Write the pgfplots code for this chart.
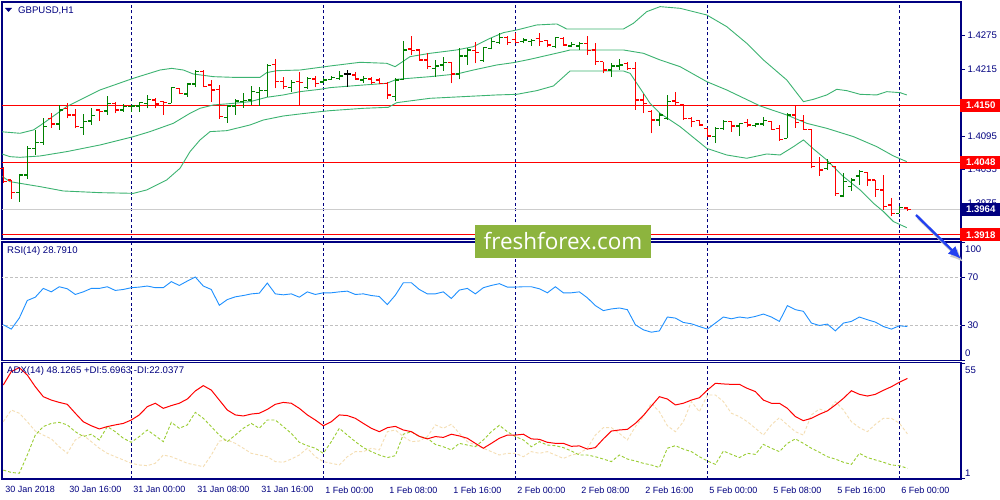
\documentclass[border=0pt]{standalone}
\usepackage{fontspec}
\setmainfont{Liberation Sans}
\newfontfamily\wmfont{Open Sans}
\usepackage{pgfplots}
\pgfplotsset{compat=1.18}
\usepackage{pgfplotstable}
\usetikzlibrary{arrows.meta}

\definecolor{mtnavy}{RGB}{0,0,128}
\definecolor{mtgreen}{RGB}{0,128,0}
\definecolor{bbgreen}{RGB}{60,179,113}
\definecolor{rsiblue}{RGB}{30,144,255}
\definecolor{pdi}{RGB}{154,205,50}
\definecolor{mdi}{RGB}{245,222,179}
\definecolor{wmgreen}{RGB}{141,180,62}
\definecolor{arrowblue}{RGB}{35,65,240}
\definecolor{lvl}{RGB}{192,192,192}

% open tick to the left, close tick to the right
\pgfdeclareplotmark{otick}{\pgfpathmoveto{\pgfqpoint{-3.5pt}{0pt}}\pgfpathlineto{\pgfqpoint{0pt}{0pt}}\pgfusepathqstroke}
\pgfdeclareplotmark{ctick}{\pgfpathmoveto{\pgfqpoint{0pt}{0pt}}\pgfpathlineto{\pgfqpoint{3.5pt}{0pt}}\pgfusepathqstroke}

% GBPUSD H1 bars, i = hours since 30 Jan 08:00 (weekend skipped)
\pgfplotstableread{
i o h l c
2 1.39937 1.40253 1.39776 1.40253
3 1.40253 1.40778 1.40182 1.40730
4 1.40730 1.41058 1.40611 1.40838
5 1.40838 1.41267 1.40790 1.41118
7 1.41166 1.41506 1.41058 1.41416
10 1.41100 1.41345 1.40969 1.41208
11 1.41219 1.41446 1.41148 1.41315
13 1.41398 1.41667 1.41327 1.41535
15 1.41416 1.41517 1.41386 1.41476
16 1.41476 1.41506 1.41386 1.41488
17 1.41488 1.41565 1.41386 1.41553
18 1.41535 1.41685 1.41446 1.41607
21 1.41535 1.41834 1.41535 1.41816
23 1.41702 1.41893 1.41655 1.41881
24 1.41881 1.42131 1.41822 1.42102
28 1.41285 1.41506 1.41190 1.41488
29 1.41488 1.41607 1.41327 1.41577
30 1.41565 1.41726 1.41458 1.41583
31 1.41595 1.41846 1.41506 1.41744
32 1.41726 1.41822 1.41488 1.41762
33 1.41762 1.42233 1.41655 1.42209
36 1.41822 1.41953 1.41744 1.41905
38 1.41822 1.42012 1.41786 1.41983
40 1.41917 1.41983 1.41905 1.41953
41 1.41965 1.42024 1.41953 1.41995
42 1.41983 1.42119 1.41953 1.42024
45 1.41953 1.42024 1.41905 1.41983
49 1.41655 1.41983 1.41583 1.41953
50 1.41965 1.42651 1.41953 1.42490
54 1.42161 1.42311 1.42012 1.42203
55 1.42221 1.42370 1.42119 1.42263
57 1.42060 1.42520 1.41965 1.42382
58 1.42382 1.42520 1.42221 1.42490
60 1.42299 1.42550 1.42281 1.42532
61 1.42520 1.42699 1.42502 1.42639
62 1.42621 1.42788 1.42597 1.42710
65 1.42639 1.42699 1.42609 1.42669
66 1.42639 1.42681 1.42561 1.42657
69 1.42550 1.42716 1.42520 1.42710
71 1.42561 1.42639 1.42538 1.42591
72 1.42561 1.42639 1.42490 1.42609
76 1.42131 1.42251 1.42012 1.42203
77 1.42203 1.42323 1.42131 1.42221
82 1.41237 1.41357 1.41130 1.41327
83 1.41267 1.41684 1.41237 1.41565
89 1.40940 1.41118 1.40821 1.41088
90 1.41088 1.41237 1.41058 1.41208
92 1.41130 1.41190 1.40951 1.41178
94 1.41136 1.41190 1.41106 1.41166
95 1.41166 1.41285 1.41130 1.41225
98 1.40910 1.41357 1.40910 1.41327
103 1.40372 1.40533 1.40342 1.40462
105 1.39878 1.40283 1.39854 1.40134
106 1.40044 1.40193 1.39973 1.40164
107 1.40235 1.40342 1.40074 1.40313
112 1.39567 1.39699 1.39567 1.39675
}\upbars

\pgfplotstableread{
i o h l c
0 1.40372 1.40402 1.40116 1.40134
1 1.40164 1.40164 1.39824 1.39943
6 1.41267 1.41357 1.41100 1.41166
8 1.41446 1.41535 1.41267 1.41327
9 1.41327 1.41428 1.41088 1.41118
12 1.41416 1.41428 1.41225 1.41386
14 1.41535 1.41565 1.41357 1.41416
19 1.41595 1.41625 1.41446 1.41523
20 1.41565 1.41577 1.41327 1.41547
22 1.41804 1.41804 1.41696 1.41714
25 1.42102 1.42131 1.41822 1.41834
26 1.41863 1.41953 1.41565 1.41774
27 1.41786 1.41863 1.41255 1.41297
34 1.42233 1.42323 1.41804 1.41923
35 1.41923 1.42012 1.41786 1.41834
37 1.41923 1.42102 1.41506 1.41911
39 1.41971 1.42024 1.41822 1.41893
44 1.42042 1.42101 1.41953 1.41971
46 1.41971 1.42000 1.41881 1.41905
47 1.41953 1.41983 1.41881 1.41893
48 1.41893 1.41923 1.41613 1.41684
51 1.42508 1.42746 1.42400 1.42478
52 1.42490 1.42502 1.42299 1.42311
53 1.42311 1.42442 1.42143 1.42191
56 1.42263 1.42281 1.41893 1.42060
59 1.42478 1.42627 1.42251 1.42442
63 1.42716 1.42740 1.42579 1.42621
64 1.42681 1.42788 1.42609 1.42621
67 1.42699 1.42788 1.42561 1.42639
68 1.42657 1.42669 1.42538 1.42579
70 1.42699 1.42716 1.42579 1.42579
73 1.42609 1.42740 1.42400 1.42478
74 1.42490 1.42609 1.42221 1.42281
75 1.42281 1.42281 1.42072 1.42131
78 1.42251 1.42281 1.42131 1.42161
79 1.42161 1.42281 1.41416 1.41595
80 1.41595 1.41702 1.41357 1.41535
81 1.41386 1.41416 1.40999 1.41237
84 1.41577 1.41744 1.41488 1.41547
85 1.41506 1.41523 1.41237 1.41267
86 1.41267 1.41297 1.41106 1.41208
87 1.41225 1.41237 1.41130 1.41148
88 1.41088 1.41088 1.40928 1.40951
91 1.41208 1.41225 1.41029 1.41130
93 1.41190 1.41249 1.41106 1.41148
96 1.41208 1.41225 1.41058 1.41070
97 1.41088 1.41148 1.40868 1.40892
99 1.41327 1.41500 1.41100 1.41190
100 1.41225 1.41327 1.41058 1.41070
101 1.41070 1.41070 1.40372 1.40402
102 1.40474 1.40581 1.40235 1.40342
104 1.40402 1.40414 1.39878 1.39925
108 1.40295 1.40313 1.40056 1.40164
109 1.40164 1.40164 1.39866 1.39997
110 1.39985 1.40253 1.39627 1.39687
111 1.39717 1.39836 1.39520 1.39567
113 1.39663 1.39675 1.39615 1.39639
}\downbars

\pgfplotstableread{
i o h l c
43 1.42060 1.42131 1.41834 1.42060
}\dojibars

% RSI(14), ADX(14), +DI, -DI
\pgfplotstableread{
i rsi adx pdi mdi
0 30.3 45.0 4.9 27.7
1 26.6 51.3 3.8 33.2
2 35.9 53.2 3.4 31.7
3 50.7 49.7 12.0 27.7
4 53.5 44.2 21.4 23.3
5 60.9 39.5 25.4 21.4
6 58.0 37.9 26.9 19.6
7 62.3 36.8 27.4 15.9
8 60.6 35.9 26.2 12.8
9 55.8 31.7 23.0 19.1
10 58.0 27.7 20.7 21.4
11 60.9 25.8 21.8 18.3
12 60.9 24.3 19.1 15.2
13 62.3 25.4 25.4 12.8
14 59.2 26.2 23.0 11.2
15 60.0 26.9 19.9 9.7
16 61.5 28.5 18.0 8.1
17 62.0 30.9 20.7 7.3
18 62.9 34.8 23.8 7.0
19 61.5 36.4 21.1 8.1
20 61.5 34.0 18.3 12.0
21 66.6 35.3 27.4 11.2
22 63.4 36.4 24.6 9.7
23 67.1 38.4 26.2 8.1
24 70.5 42.2 32.1 7.3
25 62.9 44.7 29.3 6.5
26 60.0 42.6 25.4 12.0
27 46.7 37.9 21.4 18.6
28 51.5 33.2 18.3 19.1
29 53.8 30.9 21.4 17.5
30 54.9 30.4 24.6 15.2
31 56.3 31.3 26.9 12.8
32 56.9 31.7 24.6 12.0
33 65.4 33.5 28.5 11.2
34 56.3 35.9 28.5 8.9
35 55.5 36.8 25.4 8.6
36 56.3 36.4 22.2 10.1
37 53.5 34.0 18.0 12.0
38 58.0 30.9 16.4 15.2
39 55.8 28.5 15.2 11.2
40 57.2 25.8 12.8 8.9
41 57.2 27.7 18.3 8.1
42 58.0 30.9 24.6 7.3
43 58.6 30.6 21.4 11.2
44 55.8 29.3 18.3 13.6
45 56.3 26.9 15.5 13.6
46 54.9 24.6 13.6 15.2
47 54.1 23.0 12.0 14.4
48 47.3 24.9 10.8 23.0
49 55.2 25.5 11.7 23.8
50 65.7 23.8 21.8 20.7
51 65.7 23.0 23.0 18.3
52 60.0 20.8 20.7 18.6
53 56.3 19.6 19.9 20.7
54 56.3 20.7 17.0 26.2
55 58.0 20.3 15.9 24.6
56 52.4 21.8 14.4 26.5
57 59.5 21.0 17.5 22.2
58 60.9 19.9 16.7 18.3
59 56.3 17.5 15.9 16.7
60 61.5 15.2 19.1 15.2
61 63.4 17.5 23.0 13.6
62 64.9 19.9 26.0 12.0
63 62.0 21.4 23.0 12.8
64 62.0 21.4 20.7 12.8
65 62.3 21.8 19.1 11.2
66 62.3 19.6 15.9 13.6
67 60.6 19.4 18.3 12.8
68 57.2 18.0 16.7 13.6
69 62.3 17.5 16.4 12.0
70 57.2 17.5 15.5 10.4
71 57.2 16.1 13.9 12.0
72 58.0 16.3 12.0 12.8
73 53.0 14.8 12.0 15.2
74 46.4 15.5 11.2 21.4
75 42.2 19.6 10.1 24.9
76 43.6 23.3 8.9 24.9
77 44.4 23.8 12.0 22.2
78 43.0 24.1 10.1 19.1
79 30.3 26.9 9.2 25.4
80 26.0 30.6 8.1 30.1
81 24.0 35.1 7.3 36.4
82 25.1 39.5 6.1 32.4
83 36.8 38.4 15.2 25.8
84 35.9 35.6 16.4 23.0
85 32.2 36.4 14.8 27.7
86 31.1 37.9 13.6 37.2
87 28.8 39.0 11.2 32.4
88 26.6 42.6 9.2 40.3
89 31.7 45.8 7.6 40.3
90 36.8 45.5 13.9 37.2
91 35.3 45.3 12.3 31.7
92 36.8 45.3 10.8 30.1
93 35.9 43.4 12.8 27.7
94 37.3 41.9 12.3 24.6
95 39.3 37.9 17.0 21.4
96 36.8 36.4 15.2 26.2
97 33.1 36.4 13.6 29.6
98 46.4 34.0 17.5 26.2
99 43.0 30.1 19.6 23.0
100 41.6 28.2 17.5 21.4
101 31.7 29.3 15.2 30.9
102 29.7 31.2 13.3 33.7
103 30.8 32.8 11.2 32.4
104 25.1 35.6 10.1 37.2
105 31.7 38.7 8.6 33.2
106 33.1 42.3 7.6 27.7
107 36.8 40.6 12.8 24.9
108 34.5 39.8 10.8 23.0
109 32.5 40.6 9.7 26.5
110 28.8 42.5 8.6 29.3
111 26.6 44.2 7.3 29.3
112 29.4 46.3 7.0 27.0
113 28.8 48.1 5.7 22.0
}\osc

\pgfplotsset{
  panel/.style={
    scale only axis, width=959pt, anchor=south west,
    xmin=-0.16, xmax=119.7,
    axis line style={mtnavy, line width=1.1pt},
    xtick={16,40,64,88,112}, xticklabels={}, xmajorgrids,
    grid style={mtnavy, dash pattern=on 3pt off 2.5pt, line width=0.9pt},
    ytick pos=right, yticklabel pos=right,
    tick align=outside, major tick length=4pt,
    ytick style={mtnavy, line width=0.8pt},
    xtick style={draw=none},
    yticklabel style={font=\fontsize{9.6}{11}\selectfont, text=mtnavy, xshift=-1pt},
    clip mode=individual,
  },
  % high-low line as an error bar on an invisible marker at the low
  ohlc/.style={only marks, mark=*, mark size=0.01pt, mark options={opacity=0},
    error bars/.cd, y dir=plus, y explicit,
    error mark=none, error bar style={line width=1.3pt}},
  tickmk/.style={only marks, mark options={line width=1.3pt}},
}
\tikzset{
  pricebox/.style={anchor=west, inner sep=0pt, minimum height=13pt, minimum width=41pt,
    text=white, font=\bfseries\fontsize{9.6}{11}\selectfont, xshift=-1pt},
}

\begin{document}
\begin{tikzpicture}
\path[use as bounding box, fill=white] (0,0) rectangle (1000pt,500pt);

% ---- price panel ----
\begin{axis}[panel, at={(2pt,261pt)}, height=237pt,
  ymin=1.39108, ymax=1.43348,
  ytick={1.3915,1.3975,1.4035,1.4095,1.4155,1.4215,1.4275},
  yticklabels={,1.3975,1.4035,1.4095,,1.4215,1.4275}]
\addplot[red, line width=1pt] coordinates {(-1,1.4150) (121,1.4150)};
\addplot[red, line width=1pt] coordinates {(-1,1.4048) (121,1.4048)};
\addplot[red, line width=1pt] coordinates {(-1,1.3918) (121,1.3918)};
\addplot[lvl!80, line width=0.9pt] coordinates {(-1,1.3964) (121,1.3964)};
% Bollinger bands
\addplot[bbgreen, line width=0.9pt] coordinates {
(-0.41,1.41029) (2.09,1.40999) (3.76,1.41058) (5.01,1.41178) (7.92,1.41476)
(12.09,1.41774) (16.26,1.41983) (19.59,1.42131) (21.05,1.42161) (22.51,1.42131)
(23.76,1.42060) (26.26,1.42012) (28.76,1.42000) (32.09,1.42000) (32.92,1.42084)
(34.17,1.42119) (37.09,1.42131) (39.59,1.42179) (40.84,1.42203) (44.59,1.42269)
(47.92,1.42251) (48.97,1.42191) (50.84,1.42370) (53.34,1.42430) (56.67,1.42490)
(58.76,1.42549) (60.84,1.42698) (62.51,1.42800) (64.17,1.42847) (66.67,1.42937)
(69.17,1.42955) (70.42,1.42865) (77.51,1.42865) (78.76,1.42967) (80.42,1.43175)
(82.09,1.43265) (84.59,1.43235) (87.92,1.43116) (90.42,1.42907) (92.92,1.42609)
(95.01,1.42311) (97.92,1.41953) (100.01,1.41565) (101.26,1.41607) (102.92,1.41685)
(104.17,1.41786) (105.42,1.41762) (107.09,1.41696) (109.17,1.41685) (110.42,1.41744)
(112.09,1.41726) (112.92,1.41685)};
\addplot[bbgreen, line width=0.9pt] coordinates {
(-0.41,1.40641) (0.84,1.40581) (2.09,1.40569) (4.59,1.40593) (7.92,1.40671)
(12.09,1.40790) (16.26,1.40939) (18.34,1.41029) (21.26,1.41178) (23.34,1.41357)
(24.59,1.41446) (26.26,1.41506) (28.76,1.41535) (30.84,1.41565) (32.92,1.41643)
(35.01,1.41685) (37.09,1.41744) (39.59,1.41786) (40.84,1.41816) (45.01,1.41863)
(47.92,1.41893) (49.17,1.41965) (53.34,1.42012) (56.67,1.42060) (58.76,1.42131)
(61.67,1.42221) (63.76,1.42263) (65.84,1.42323) (70.01,1.42460) (70.84,1.42490)
(77.51,1.42490) (80.01,1.42430) (82.09,1.42311) (84.59,1.42191) (87.92,1.41923)
(90.42,1.41774) (94.59,1.41488) (97.92,1.41327) (100.42,1.41178) (102.92,1.41088)
(106.26,1.40939) (109.17,1.40760) (111.26,1.40593) (112.92,1.40492)};
\addplot[bbgreen, line width=0.9pt] coordinates {
(-0.41,1.40253) (0.84,1.40134) (2.09,1.40104) (4.59,1.40045) (7.51,1.39967)
(12.09,1.39937) (16.26,1.39925) (17.92,1.39985) (20.42,1.40164) (22.09,1.40373)
(23.34,1.40671) (24.59,1.40880) (25.84,1.41029) (27.92,1.41046) (30.84,1.41148)
(32.51,1.41237) (35.01,1.41309) (37.09,1.41345) (39.59,1.41386) (40.84,1.41404)
(45.01,1.41446) (48.13,1.41464) (49.17,1.41547) (53.34,1.41625) (57.51,1.41655)
(61.67,1.41685) (64.17,1.41696) (66.67,1.41762) (68.76,1.41846) (70.84,1.42114)
(77.51,1.42114) (78.34,1.42072) (79.59,1.41804) (80.84,1.41535) (82.09,1.41357)
(84.59,1.41118) (87.92,1.40730) (90.42,1.40611) (92.92,1.40552) (95.42,1.40629)
(97.09,1.40611) (98.76,1.40760) (100.01,1.40880) (101.26,1.40719) (102.92,1.40522)
(105.01,1.40224) (107.09,1.39985) (108.76,1.39747) (110.01,1.39598) (111.26,1.39419)
(112.92,1.39311)};
% bars
\addplot[mtgreen, ohlc] table[x=i, y=l, y error plus expr=\thisrow{h}-\thisrow{l}] {\upbars};
\addplot[mtgreen, tickmk, mark=otick] table[x=i, y=o] {\upbars};
\addplot[mtgreen, tickmk, mark=ctick] table[x=i, y=c] {\upbars};
\addplot[red, ohlc] table[x=i, y=l, y error plus expr=\thisrow{h}-\thisrow{l}] {\downbars};
\addplot[red, tickmk, mark=otick] table[x=i, y=o] {\downbars};
\addplot[red, tickmk, mark=ctick] table[x=i, y=c] {\downbars};
\addplot[black, ohlc] table[x=i, y=l, y error plus expr=\thisrow{h}-\thisrow{l}] {\dojibars};
\addplot[black, tickmk, mark=otick] table[x=i, y=o] {\dojibars};
\addplot[black, tickmk, mark=ctick] table[x=i, y=c] {\dojibars};
% price labels on the scale
\node[pricebox, fill=red] at (axis cs:119.7,1.4150) {1.4150};
\node[pricebox, fill=red] at (axis cs:119.7,1.4048) {1.4048};
\node[pricebox, fill=mtnavy] at (axis cs:119.7,1.3964) {1.3964};
\node[pricebox, fill=red] at (axis cs:119.7,1.3918) {1.3918};
\end{axis}

% ---- RSI panel ----
\begin{axis}[panel, at={(2pt,139.3pt)}, height=118.7pt,
  ymin=0, ymax=100, ytick={0,30,70,100}, yticklabels={,30,70,}]
\addplot[lvl, dash pattern=on 3pt off 2pt, line width=0.9pt] coordinates {(-1,70) (121,70)};
\addplot[lvl, dash pattern=on 3pt off 2pt, line width=0.9pt] coordinates {(-1,30) (121,30)};
\addplot[rsiblue, line width=0.9pt] table[x=i, y=rsi] {\osc};
\end{axis}

% ---- ADX panel ----
\begin{axis}[panel, at={(2pt,21pt)}, height=116.7pt,
  ymin=0.7, ymax=55.7, ytick={1,55}, yticklabels={,},
  xtick pos=bottom, xtick style={mtnavy, line width=0.8pt},
  xticklabels={31 Jan 00:00,1 Feb 00:00,2 Feb 00:00,5 Feb 00:00,6 Feb 00:00},
  extra x ticks={0,8,24,32,48,56,72,80,96,104},
  extra x tick labels={30 Jan 2018,30 Jan 16:00,31 Jan 08:00,31 Jan 16:00,1 Feb 08:00,1 Feb 16:00,2 Feb 08:00,2 Feb 16:00,5 Feb 08:00,5 Feb 16:00},
  extra x tick style={grid=none},
  xticklabel style={anchor=north west, xshift=-1.5pt, font=\fontsize{9}{10}\selectfont, text=mtnavy}]
\addplot[mdi, dash pattern=on 3pt off 2pt, line width=0.9pt] table[x=i, y=mdi] {\osc};
\addplot[pdi, dash pattern=on 3pt off 2pt, line width=0.9pt] table[x=i, y=pdi] {\osc};
\addplot[red, line width=1pt] table[x=i, y=adx] {\osc};
\end{axis}

% scale labels at the panel edges
\begin{scope}[every node/.style={anchor=west, inner sep=0pt, text=mtnavy, font=\fontsize{9.6}{11}\selectfont}]
\node at (965pt,251pt) {100};
\node at (965pt,147pt) {0};
\node at (965pt,130pt) {55};
\node at (965pt,27pt) {1};
\end{scope}

% panel captions
\fill[mtnavy] (5pt,492pt) -- (12pt,492pt) -- (8.5pt,488pt) -- cycle;
\begin{scope}[every node/.style={anchor=west, inner sep=0pt, text=mtnavy, font=\fontsize{9.6}{11}\selectfont}]
\node at (18pt,489pt) {GBPUSD,H1};
\node at (7pt,249pt) {RSI(14) 28.7910};
\node at (7pt,129pt) {ADX(14) 48.1265 +DI:5.6963 -DI:22.0377};
\end{scope}

% watermark
\node[fill=wmgreen, text=white, minimum width=176pt, minimum height=33pt, inner sep=0pt,
  font=\wmfont\fontsize{22.5}{25}\selectfont] at (563pt,258.5pt) {freshforex.com};

% arrow
\draw[gray!40, line width=2.4pt, -{Latex[length=13pt, width=11pt]}] (918pt,282pt) -- (963pt,238pt);
\draw[arrowblue, line width=2.4pt, -{Latex[length=13pt, width=11pt]}] (916pt,285pt) -- (961pt,241pt);
\end{tikzpicture}
\end{document}
